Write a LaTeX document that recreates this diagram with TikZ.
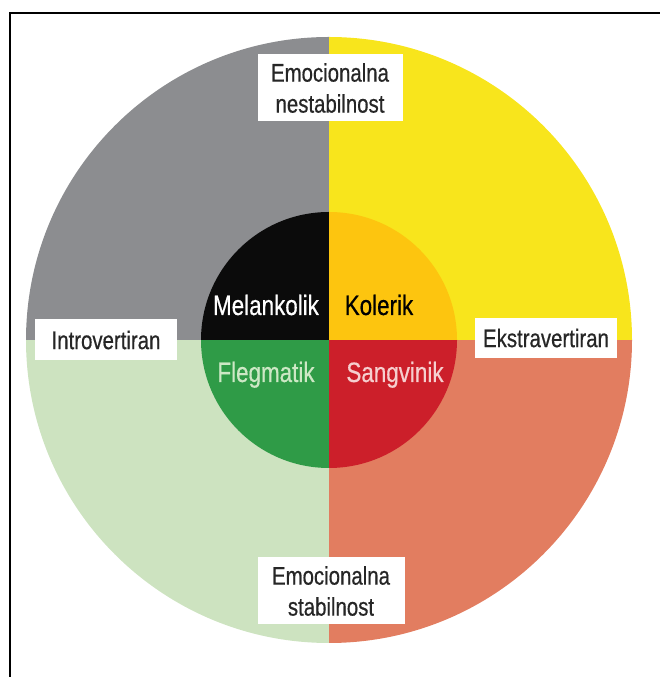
\documentclass[tikz,border=0pt]{standalone}
\usepackage{fontspec}
\setmainfont{Liberation Sans}[FakeStretch=0.80, FakeBold=0.5]
\definecolor{qgray}{HTML}{8C8D90}
\definecolor{qyellow}{HTML}{F8E51C}
\definecolor{qsalmon}{HTML}{E27D60}
\definecolor{qlgreen}{HTML}{CDE3C0}
\definecolor{iblack}{HTML}{0B0B0B}
\definecolor{igold}{HTML}{FDC50F}
\definecolor{igreen}{HTML}{2F9B47}
\definecolor{ired}{HTML}{CC1F2A}
\definecolor{tgreen}{HTML}{CDE8C5}
\definecolor{tpink}{HTML}{F6CFCF}
\tikzset{
  axislabel/.style={fill=white, inner sep=0pt, align=center, font=\fontsize{25.5}{31}\selectfont, text=black!85},
  temper/.style={anchor=base, inner sep=0pt, font=\fontsize{28}{32}\selectfont},
}
\begin{document}
\begin{tikzpicture}[x=1pt,y=1pt]
\useasboundingbox (0,0) rectangle (660,677);
\coordinate (C) at (329,337);
\begin{scope}
  \clip (C) circle (303pt);
  \fill[qgray] (C) rectangle ++(-310,310);
  \fill[qyellow] (C) rectangle ++(310,310);
  \fill[qlgreen] (C) rectangle ++(-310,-310);
  \fill[qsalmon] (C) rectangle ++(310,-310);
\end{scope}
\begin{scope}
  \clip (C) circle (128pt);
  \fill[iblack] (C) rectangle ++(-130,130);
  \fill[igold] (C) rectangle ++(130,130);
  \fill[igreen] (C) rectangle ++(-130,-130);
  \fill[ired] (C) rectangle ++(130,-130);
\end{scope}
\node[axislabel, minimum width=145pt, minimum height=67pt] (top) at (330,589) {Emocionalna\\nestabilnost};
\node[axislabel, minimum width=142pt, minimum height=41pt] (left) at (106,337) {Introvertiran};
\node[axislabel, minimum width=142pt, minimum height=40pt] (right) at (546,339) {Ekstravertiran};
\node[axislabel, minimum width=147pt, minimum height=67pt] (bottom) at (331,86) {Emocionalna\\stabilnost};
\node[temper, text=white] (mel) at (266,362) {Melankolik};
\node[temper, text=black] (kol) at (379,362) {Kolerik};
\node[temper, text=tgreen] (fleg) at (266,295) {Flegmatik};
\node[temper, text=tpink] (sang) at (395,295) {Sangvinik};
\draw[line width=2.5pt] (10,0) -- (10,664) -- (660,664);
\end{tikzpicture}
\end{document}
